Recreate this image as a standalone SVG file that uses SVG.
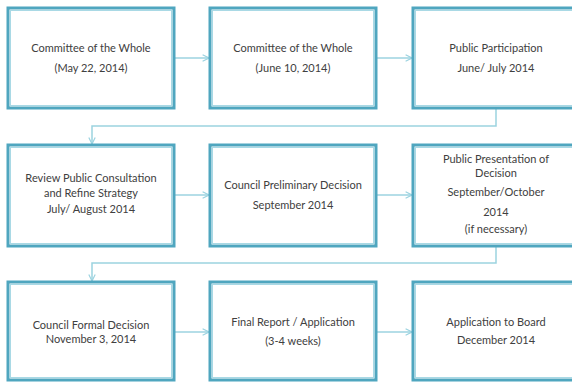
<svg xmlns="http://www.w3.org/2000/svg" width="572" height="382" viewBox="0 0 572 382">
<style>
.box{fill:#ffffff;stroke:#4fa6bf;stroke-width:3}
.inner{fill:none;stroke:#a9d9e5;stroke-width:1}
.t{font-family:Lato,"Open Sans",sans-serif;font-size:11px;fill:#404040;text-anchor:middle}
.c{fill:none;stroke:#9cd3e0;stroke-width:1.5;marker-end:url(#ah)}
</style>
<defs>
<marker id="ah" viewBox="0 0 10 10" refX="9" refY="5" markerWidth="8" markerHeight="8" markerUnits="userSpaceOnUse" orient="auto">
<path d="M1,1 L9,5 L1,9" fill="none" stroke="#9cd3e0" stroke-width="1.5"/>
</marker>
</defs>
<rect width="572" height="382" fill="#ffffff"/>
<g id="connectors">
<path class="c" d="M175,58 H209"/>
<path class="c" d="M377,58 H412"/>
<path class="c" d="M496,109 V126 H92 V144"/>
<path class="c" d="M175,195 H209"/>
<path class="c" d="M377,195 H412"/>
<path class="c" d="M496,247 V263 H92 V281"/>
<path class="c" d="M175,332 H209"/>
<path class="c" d="M377,332 H412"/>
</g>
<g id="n1"><rect class="box" x="8" y="8" width="166" height="100"/><rect class="inner" x="10.5" y="10.5" width="161" height="95"/>
<text class="t" x="91" y="52">Committee of the Whole</text><text class="t" x="91" y="72">(May 22, 2014)</text></g>
<g id="n2"><rect class="box" x="210" y="8" width="166" height="100"/><rect class="inner" x="212.5" y="10.5" width="161" height="95"/>
<text class="t" x="293" y="52">Committee of the Whole</text><text class="t" x="293" y="72">(June 10, 2014)</text></g>
<g id="n3"><rect class="box" x="413" y="8" width="166" height="100"/><rect class="inner" x="415.5" y="10.5" width="161" height="95"/>
<text class="t" x="496" y="52">Public Participation</text><text class="t" x="496" y="72">June/ July 2014</text></g>
<g id="n4"><rect class="box" x="8" y="145" width="166" height="101"/><rect class="inner" x="10.5" y="147.5" width="161" height="96"/>
<text class="t" x="91" y="182">Review Public Consultation</text><text class="t" x="91" y="197">and Refine Strategy</text><text class="t" x="91" y="213">July/ August 2014</text></g>
<g id="n5"><rect class="box" x="210" y="145" width="166" height="101"/><rect class="inner" x="212.5" y="147.5" width="161" height="96"/>
<text class="t" x="293" y="189">Council Preliminary Decision</text><text class="t" x="293" y="209">September 2014</text></g>
<g id="n6"><rect class="box" x="413" y="145" width="166" height="101"/><rect class="inner" x="415.5" y="147.5" width="161" height="96"/>
<text class="t" x="496" y="163">Public Presentation of</text><text class="t" x="496" y="177">Decision</text><text class="t" x="496" y="196">September/October</text><text class="t" x="496" y="216">2014</text><text class="t" x="496" y="233">(if necessary)</text></g>
<g id="n7"><rect class="box" x="8" y="282" width="166" height="98"/><rect class="inner" x="10.5" y="284.5" width="161" height="93"/>
<text class="t" x="91" y="329">Council Formal Decision</text><text class="t" x="91" y="343">November 3, 2014</text></g>
<g id="n8"><rect class="box" x="210" y="282" width="166" height="98"/><rect class="inner" x="212.5" y="284.5" width="161" height="93"/>
<text class="t" x="293" y="326">Final Report / Application</text><text class="t" x="293" y="345">(3-4 weeks)</text></g>
<g id="n9"><rect class="box" x="413" y="282" width="166" height="98"/><rect class="inner" x="415.5" y="284.5" width="161" height="93"/>
<text class="t" x="496" y="326">Application to Board</text><text class="t" x="496" y="344">December 2014</text></g>
</svg>
